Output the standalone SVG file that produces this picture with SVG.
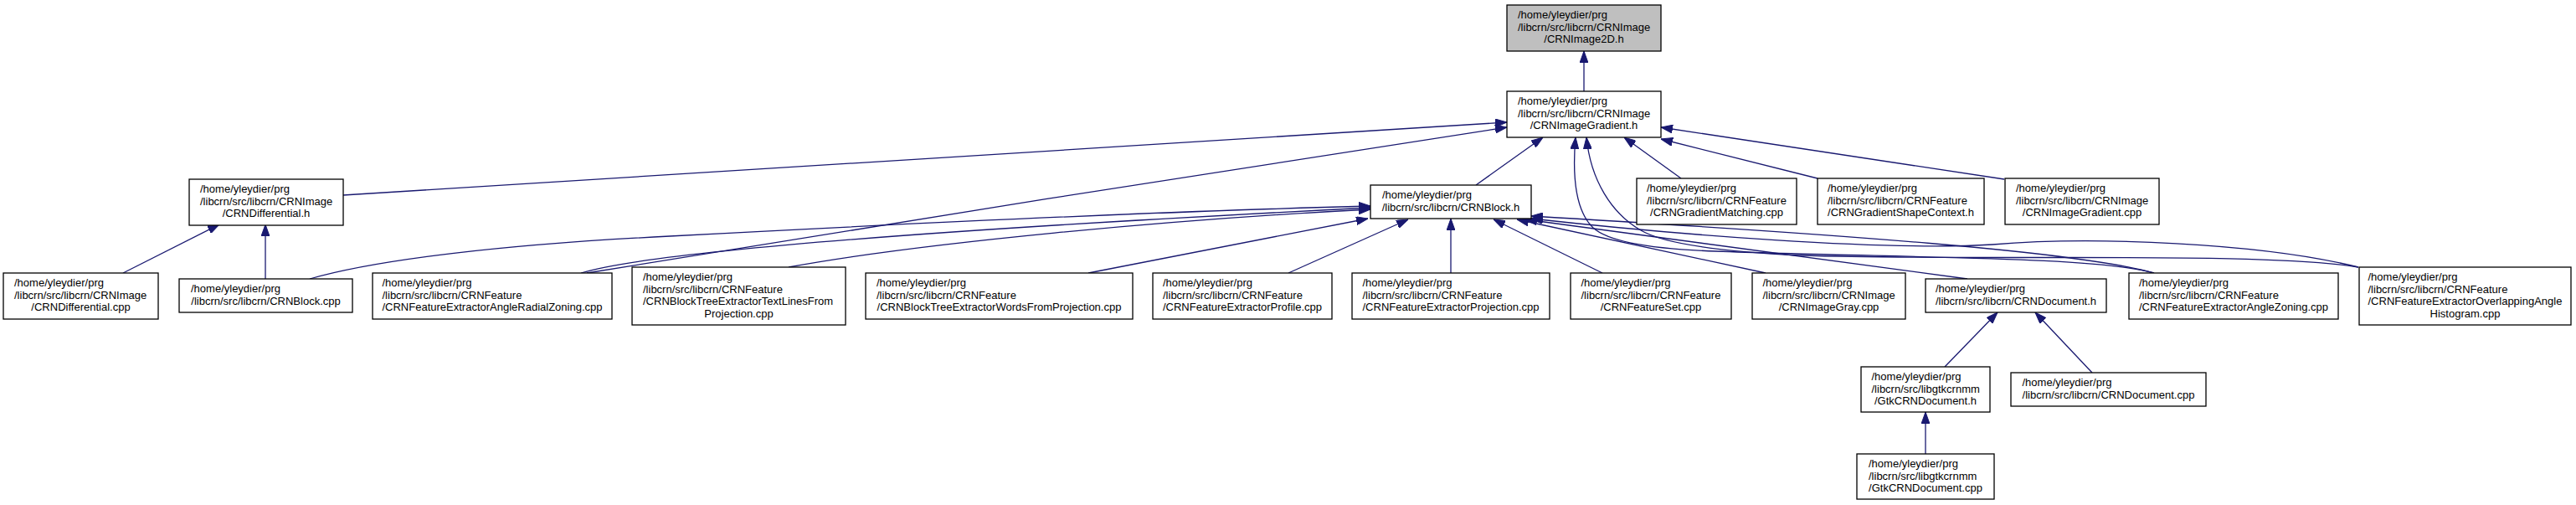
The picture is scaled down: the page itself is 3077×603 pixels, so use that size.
<svg xmlns="http://www.w3.org/2000/svg" width="3077" height="603" viewBox="0 0 3077 603">
<style>
.box{fill:#ffffff;stroke:#000000;stroke-width:1.3}
.root{fill:#bfbfbf;stroke:#000000;stroke-width:1.3}
text{font-family:"Liberation Sans",Arial,Helvetica,sans-serif;font-size:13px;fill:#000000}
.c{text-anchor:middle}
.e{fill:none;stroke:#191970;stroke-width:1.3;marker-end:url(#ah)}
</style>
<defs>
<marker id="ah" viewBox="0 0 14 10" refX="14" refY="5" markerWidth="14" markerHeight="10" markerUnits="userSpaceOnUse" orient="auto">
<path d="M0,0 L14,5 L0,10 z" fill="#191970" stroke="#191970" stroke-width="1"/>
</marker>
</defs>
<rect x="0" y="0" width="3077" height="603" fill="#ffffff"/>
<g id="connectors">
<path class="e" d="M1892,109 L1892,61"/>
<path class="e" d="M410,233 L1800,146"/>
<path class="e" d="M701,326 C1000,278 1500,196 1800,152"/>
<path class="e" d="M1763,221 L1843,164"/>
<path class="e" d="M2008,213 L1940,164"/>
<path class="e" d="M2171,213 L1984,166"/>
<path class="e" d="M2394,214 L1984,152"/>
<path class="e" d="M2573,326 C2500,305 2250,308 2050,300 C1990,298 1925,292 1903,272 C1882,252 1878,210 1882,164"/>
<path class="e" d="M2817,319 C2700,300 2400,312 2150,305 C2050,300 1985,290 1960,275 C1925,255 1900,215 1895,164"/>
<path class="e" d="M147,326 L262,268"/>
<path class="e" d="M317,333 L317,268"/>
<path class="e" d="M370,333 C450,310 600,292 800,282 C1100,266 1400,252 1637,246"/>
<path class="e" d="M694,326 C760,306 1000,280 1637,248"/>
<path class="e" d="M942,319 C1100,290 1400,262 1637,250"/>
<path class="e" d="M1300,326 L1634,261"/>
<path class="e" d="M1539,326 L1682,262"/>
<path class="e" d="M1733,326 L1733,261"/>
<path class="e" d="M1914,326 L1784,262"/>
<path class="e" d="M2109,326 L1812,262"/>
<path class="e" d="M2350,333 L1822,262"/>
<path class="e" d="M2573,326 C2480,300 2200,280 1829,258"/>
<path class="e" d="M2817,319 C2700,290 2500,282 2380,292 C2250,300 2000,280 1829,261"/>
<path class="e" d="M2323,438 L2386,373"/>
<path class="e" d="M2499,445 L2431,373"/>
<path class="e" d="M2300,542 L2300,492"/>
</g>
<g id="n0"><rect class="root" x="1800" y="6" width="184" height="55"/>
<text x="1813" y="22.25">/home/yleydier/prg</text><text x="1813" y="36.75">/libcrn/src/libcrn/CRNImage</text><text class="c" x="1892" y="51.25">/CRNImage2D.h</text></g>
<g id="n1"><rect class="box" x="1800" y="109" width="184" height="55"/>
<text x="1813" y="125.25">/home/yleydier/prg</text><text x="1813" y="139.75">/libcrn/src/libcrn/CRNImage</text><text class="c" x="1892" y="154.25">/CRNImageGradient.h</text></g>
<g id="n2"><rect class="box" x="226" y="214" width="184" height="55"/>
<text x="239" y="230.25">/home/yleydier/prg</text><text x="239" y="244.75">/libcrn/src/libcrn/CRNImage</text><text class="c" x="318" y="259.25">/CRNDifferential.h</text></g>
<g id="n3"><rect class="box" x="1637" y="221" width="192" height="40"/>
<text x="1651" y="237">/home/yleydier/prg</text><text class="c" x="1733" y="251.5">/libcrn/src/libcrn/CRNBlock.h</text></g>
<g id="n4"><rect class="box" x="1955" y="213" width="191" height="55"/>
<text x="1967" y="229.25">/home/yleydier/prg</text><text x="1967" y="243.75">/libcrn/src/libcrn/CRNFeature</text><text class="c" x="2050.5" y="258.25">/CRNGradientMatching.cpp</text></g>
<g id="n5"><rect class="box" x="2171" y="213" width="199" height="55"/>
<text x="2183" y="229.25">/home/yleydier/prg</text><text x="2183" y="243.75">/libcrn/src/libcrn/CRNFeature</text><text class="c" x="2270.5" y="258.25">/CRNGradientShapeContext.h</text></g>
<g id="n6"><rect class="box" x="2395" y="213" width="184" height="55"/>
<text x="2408" y="229.25">/home/yleydier/prg</text><text x="2408" y="243.75">/libcrn/src/libcrn/CRNImage</text><text class="c" x="2487" y="258.25">/CRNImageGradient.cpp</text></g>
<g id="n7"><rect class="box" x="4" y="326" width="185" height="55"/>
<text x="17" y="342.25">/home/yleydier/prg</text><text x="17" y="356.75">/libcrn/src/libcrn/CRNImage</text><text class="c" x="96.5" y="371.25">/CRNDifferential.cpp</text></g>
<g id="n8"><rect class="box" x="214" y="333" width="207" height="40"/>
<text x="228" y="349">/home/yleydier/prg</text><text class="c" x="317.5" y="363.5">/libcrn/src/libcrn/CRNBlock.cpp</text></g>
<g id="n9"><rect class="box" x="445" y="326" width="286" height="55"/>
<text x="456.5" y="342.25">/home/yleydier/prg</text><text x="456.5" y="356.75">/libcrn/src/libcrn/CRNFeature</text><text class="c" x="588" y="371.25">/CRNFeatureExtractorAngleRadialZoning.cpp</text></g>
<g id="n10"><rect class="box" x="755" y="319" width="255" height="69"/>
<text x="768" y="335">/home/yleydier/prg</text><text x="768" y="349.5">/libcrn/src/libcrn/CRNFeature</text><text x="768" y="364">/CRNBlockTreeExtractorTextLinesFrom</text><text class="c" x="882.5" y="378.5">Projection.cpp</text></g>
<g id="n11"><rect class="box" x="1034" y="326" width="319" height="55"/>
<text x="1047" y="342.25">/home/yleydier/prg</text><text x="1047" y="356.75">/libcrn/src/libcrn/CRNFeature</text><text class="c" x="1193.5" y="371.25">/CRNBlockTreeExtractorWordsFromProjection.cpp</text></g>
<g id="n12"><rect class="box" x="1377" y="326" width="214" height="55"/>
<text x="1389" y="342.25">/home/yleydier/prg</text><text x="1389" y="356.75">/libcrn/src/libcrn/CRNFeature</text><text class="c" x="1484" y="371.25">/CRNFeatureExtractorProfile.cpp</text></g>
<g id="n13"><rect class="box" x="1615" y="326" width="236" height="55"/>
<text x="1627.5" y="342.25">/home/yleydier/prg</text><text x="1627.5" y="356.75">/libcrn/src/libcrn/CRNFeature</text><text class="c" x="1733" y="371.25">/CRNFeatureExtractorProjection.cpp</text></g>
<g id="n14"><rect class="box" x="1876" y="326" width="192" height="55"/>
<text x="1888.5" y="342.25">/home/yleydier/prg</text><text x="1888.5" y="356.75">/libcrn/src/libcrn/CRNFeature</text><text class="c" x="1972" y="371.25">/CRNFeatureSet.cpp</text></g>
<g id="n15"><rect class="box" x="2093" y="326" width="183" height="55"/>
<text x="2105.5" y="342.25">/home/yleydier/prg</text><text x="2105.5" y="356.75">/libcrn/src/libcrn/CRNImage</text><text class="c" x="2184.5" y="371.25">/CRNImageGray.cpp</text></g>
<g id="n16"><rect class="box" x="2300" y="333" width="216" height="40"/>
<text x="2312" y="349">/home/yleydier/prg</text><text class="c" x="2408" y="363.5">/libcrn/src/libcrn/CRNDocument.h</text></g>
<g id="n17"><rect class="box" x="2543" y="326" width="250" height="55"/>
<text x="2555" y="342.25">/home/yleydier/prg</text><text x="2555" y="356.75">/libcrn/src/libcrn/CRNFeature</text><text class="c" x="2668" y="371.25">/CRNFeatureExtractorAngleZoning.cpp</text></g>
<g id="n18"><rect class="box" x="2818" y="319" width="253" height="69"/>
<text x="2828.5" y="335">/home/yleydier/prg</text><text x="2828.5" y="349.5">/libcrn/src/libcrn/CRNFeature</text><text x="2828.5" y="364">/CRNFeatureExtractorOverlappingAngle</text><text class="c" x="2944.5" y="378.5">Histogram.cpp</text></g>
<g id="n19"><rect class="box" x="2223" y="438" width="154" height="54"/>
<text x="2235.5" y="454.25">/home/yleydier/prg</text><text x="2235.5" y="468.75">/libcrn/src/libgtkcrnmm</text><text class="c" x="2300" y="483.25">/GtkCRNDocument.h</text></g>
<g id="n20"><rect class="box" x="2402" y="445" width="233" height="40"/>
<text x="2415.5" y="461">/home/yleydier/prg</text><text class="c" x="2518.5" y="475.5">/libcrn/src/libcrn/CRNDocument.cpp</text></g>
<g id="n21"><rect class="box" x="2218" y="542" width="164" height="54"/>
<text x="2232" y="558.25">/home/yleydier/prg</text><text x="2232" y="572.75">/libcrn/src/libgtkcrnmm</text><text class="c" x="2300" y="587.25">/GtkCRNDocument.cpp</text></g>
</svg>
